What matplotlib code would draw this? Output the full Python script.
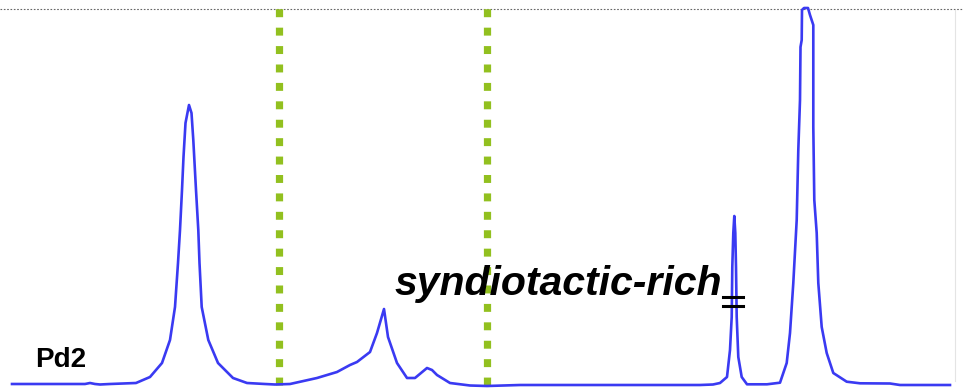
import matplotlib
matplotlib.use("Agg")
import matplotlib.pyplot as plt

# spectrum trace (x position, intensity above baseline)
shift = [12, 40, 85, 90, 95, 100, 110, 136, 150, 162, 170, 175, 178, 180, 182,
         183.5, 185.5, 189, 191.5, 193.3, 196, 198.3, 199.5, 201.7, 208.3, 218,
         233, 247, 265, 275, 290, 317, 337, 350, 357, 370, 377, 384, 388, 397,
         407, 415, 421, 427, 432, 437, 450, 470, 487, 520, 600, 700, 713, 720,
         727, 730, 731.7, 732.3, 733.3, 734.3, 735.3, 736, 736.7, 738.3, 741.7,
         747, 767, 780, 786.7, 790, 793.3, 796.7, 798.3, 800, 800.5, 801.7, 802,
         804, 808, 810, 813.3, 813.3, 814.3, 816.7, 818.3, 821.7, 826.7, 833.3,
         846.7, 860, 890, 900, 950]
pix_y = [384, 384, 384, 383, 384, 384.5, 384, 383, 377, 363, 340, 307, 263, 230,
         190, 157, 123, 105, 113, 140, 190, 230, 263, 307, 340, 363, 378, 383,
         384, 384.5, 384, 378, 372, 365, 362, 352, 333, 309, 337, 363, 378, 378,
         373, 368, 370, 375, 383, 385.5, 386, 385, 385, 385, 384.5, 383, 377,
         350, 317, 267, 233, 216, 233, 267, 317, 357, 377, 384.3, 384.3, 382.7,
         363, 333, 283, 220, 150, 100, 47, 40, 10, 8, 8, 15, 25, 127, 200, 233,
         283, 327, 353, 373, 381.7, 383.3, 383.5, 385, 385]
intensity = [385 - v for v in pix_y]

region_bounds = [279, 487]   # dotted separators
break_at = 735               # break mark on the narrow peak
label_main = "syndiotactic-rich"
label_sample = "Pd2"

fig = plt.figure(figsize=(9.63, 3.89), dpi=100)
ax = fig.add_axes([0, 0, 1, 1])
ax.set_xlim(0, 963)
ax.set_ylim(-4, 385)
ax.axis("off")

# faint frame remnants
ax.axhline(376, color="#666666", lw=0.8, ls=(0, (1.5, 1.5)), zorder=1)
ax.axvline(955, ymin=0.02, ymax=0.975, color="#e4e4e4", lw=0.8, zorder=1)

for xb in region_bounds:
    ax.axvline(xb, color="#92c01f", lw=5.2, ls=(2, (1.1, 1.45)),
               dash_capstyle="butt", zorder=2)

ax.plot(shift, intensity, color="#3a3af2", lw=1.9, zorder=3,
        solid_joinstyle="round")

# break mark
for yb in [88, 79]:
    ax.plot([break_at - 12, break_at + 8], [yb, yb], color="black", lw=2.2,
            zorder=4)

ax.text(395, 90, label_main, fontsize=29.5, fontweight="bold",
        fontstyle="italic", family=["Liberation Sans", "DejaVu Sans"],
        ha="left", va="baseline", zorder=5)
ax.text(35, 18, label_sample, fontsize=20, fontweight="bold",
        family=["Liberation Sans", "DejaVu Sans"], ha="left", va="baseline",
        zorder=5)

fig.savefig("out.png", dpi=100)
